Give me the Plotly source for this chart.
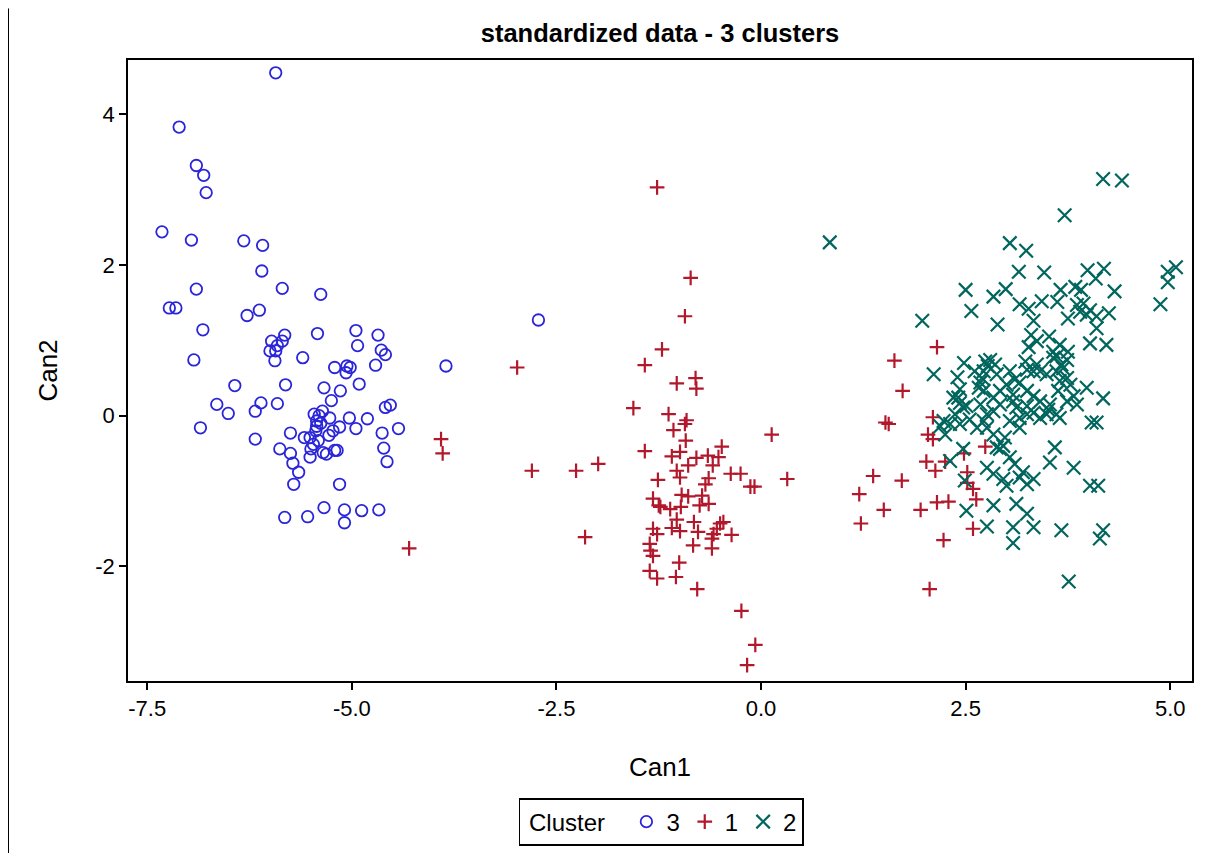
import plotly.graph_objects as go

# ---- data ----
c3_x = [-5.93, -7.11, -6.90, -6.81, -6.78, -7.32, -6.96, -6.32, -6.09, -6.10, -6.90, -5.85, -5.38,
        -7.23, -7.15, -6.28, -6.13, -6.82, -5.82, -5.98, -5.85, -5.91, -6.00, -5.93, -5.94, -6.93,
        -5.60, -5.42, -4.95, -4.68, -4.93, -4.64, -4.59, -4.71, -5.21, -5.06, -5.02, -5.07, -6.43,
        -5.81, -5.34, -5.14, -4.91, -5.25, -6.65, -6.51, -6.11, -6.18, -5.91, -6.85, -6.18, -5.46,
        -5.36, -5.43, -5.43, -5.27, -5.03, -4.81, -4.95, -5.15, -5.23, -5.28, -4.63, -4.43, -4.59,
        -4.53, -5.75, -5.58, -5.51, -5.41, -5.47, -5.50, -5.35, -5.31, -5.21, -5.18, -5.51, -5.88,
        -5.75, -5.72, -5.65, -5.71, -5.15, -4.61, -4.57, -5.82, -5.54, -5.34, -5.09, -5.09, -4.88,
        -4.67, -2.72, -3.85, -5.40, -5.38, -5.44]
c3_y = [4.55, 3.83, 3.32, 3.19, 2.96, 2.44, 2.33, 2.32, 2.26, 1.92, 1.68, 1.69, 1.61,
        1.43, 1.43, 1.33, 1.40, 1.14, 1.07, 0.99, 0.99, 0.93, 0.86, 0.86, 0.73, 0.74,
        0.77, 1.09, 1.13, 1.07, 0.93, 0.87, 0.81, 0.67, 0.64, 0.66, 0.64, 0.57, 0.40,
        0.41, 0.37, 0.33, 0.42, 0.20, 0.15, 0.03, 0.17, 0.06, 0.16, -0.16, -0.31, 0.02,
        0.06, -0.07, -0.14, -0.03, -0.03, -0.04, -0.17, -0.15, -0.20, -0.26, -0.23, -0.17, 0.11,
        0.14, -0.23, -0.29, -0.29, -0.33, -0.38, -0.44, -0.49, -0.51, -0.46, -0.46, -0.55, -0.44,
        -0.50, -0.63, -0.75, -0.91, -0.91, -0.43, -0.61, -1.35, -1.34, -1.22, -1.25, -1.42, -1.26,
        -1.25, 1.27, 0.66, 0.00, -0.10, -0.20]

c1_x = [-2.98, -3.91, -3.89, -2.80, -2.26, -4.30, -1.27, -0.86, -0.93, -1.21, -1.42, -1.03, -0.80,
        -0.79, -1.56, -1.13, -0.91, -0.93, -1.07, -0.92, -1.42, -1.09, -0.99, -0.79, -0.65, -0.52,
        -0.48, -0.59, -0.89, -1.03, -0.99, 0.13, 0.32, -1.99, -2.15, -1.26, -0.64, -0.68, -0.37,
        -0.25, -0.13, -0.08, -1.32, -1.25, -1.23, -1.11, -0.97, -0.89, -0.98, -0.72, -0.75, -0.64,
        -1.03, -1.09, -0.99, -0.82, -0.77, -1.32, -1.27, -0.50, -0.46, -0.54, -0.58, -0.60, -0.36,
        -0.83, -0.60, -1.36, -1.35, -1.32, -1.00, -1.36, -1.27, -1.04, -0.78, -0.24, -0.07, -0.17,
        1.37, 1.20, 1.22, 2.15, 1.63, 1.73, 1.52, 1.56, 2.10, 2.04, 2.10, 2.02, 2.13, 2.25, 2.48,
        2.74, 2.52, 2.52, 2.59, 2.63, 1.72, 1.50, 1.95, 2.15, 2.29, 2.59, 2.23, 2.06]
c1_y = [0.64, -0.31, -0.50, -0.73, -0.73, -1.76, 3.03, 1.83, 1.32, 0.88, 0.67, 0.43, 0.50,
        0.36, 0.10, 0.02, -0.06, -0.11, -0.19, -0.33, -0.47, -0.54, -0.48, -0.56, -0.53, -0.55,
        -0.41, -0.66, -0.66, -0.73, -0.82, -0.25, -0.84, -0.64, -1.61, -0.85, -0.83, -0.91, -0.77,
        -0.77, -0.94, -0.94, -1.10, -1.19, -1.21, -1.24, -1.05, -1.07, -1.21, -1.06, -1.19, -1.17,
        -1.38, -1.49, -1.53, -1.41, -1.54, -1.50, -1.57, -1.43, -1.41, -1.50, -1.57, -1.63, -1.58,
        -1.72, -1.76, -1.70, -1.79, -1.86, -1.95, -2.06, -2.16, -2.14, -2.30, -2.59, -3.04, -3.31,
        -0.80, -1.04, -1.43, 0.91, 0.73, 0.33, -0.09, -0.11, -0.02, -0.25, -0.31, -0.61, -0.73, -0.61, -0.50,
        -0.41, -0.75, -0.89, -0.97, -1.11, -0.86, -1.25, -1.25, -1.15, -1.14, -1.50, -1.65, -2.30]

c2_x = [4.18, 4.41, 3.71, 0.84, 3.04, 3.24, 3.15, 3.46, 3.99, 4.19, 4.09, 5.07, 4.97, 4.97, 4.88,
        4.32, 2.50, 2.57, 2.84, 2.99, 2.89, 1.97, 3.16, 3.27, 3.33, 3.43, 3.62, 3.66, 3.84, 3.91,
        3.86, 3.94, 3.90, 4.02, 3.98, 4.10, 4.25, 4.10, 3.75, 3.30, 3.37, 3.27, 3.52, 4.02, 4.22,
        3.65, 3.75, 3.57, 3.61, 3.57, 3.74, 3.67, 2.48, 2.74, 2.80, 2.86, 2.77, 3.23, 3.37, 3.41,
        3.49, 3.25, 3.61, 3.69, 3.74, 3.65, 3.78, 2.11, 2.40, 2.61, 2.72, 2.68, 2.88, 3.04, 3.10,
        3.16, 3.00, 2.92, 3.08, 3.25, 3.33, 3.98, 4.18, 3.82, 3.86, 3.74, 2.72, 2.84, 2.68, 2.41,
        2.47, 2.37, 3.41, 3.53, 3.61, 3.49, 2.92, 3.12, 3.25, 4.10, 4.04, 2.23, 2.55, 2.72, 3.04,
        2.70, 2.66, 2.43, 2.35, 2.43, 2.51, 2.31, 2.19, 2.43, 2.64, 2.76, 2.84, 3.08, 3.25, 3.16,
        2.76, 2.84, 2.96, 2.88, 2.92, 3.04, 2.76, 2.84, 2.96, 3.16, 3.25, 3.00, 2.51, 2.84, 3.12,
        3.25, 3.08, 2.76, 3.08, 3.33, 2.31, 2.25, 2.47, 2.49, 3.33, 3.33, 3.63, 3.51, 3.65, 3.41,
        3.33, 3.16, 2.98, 3.59, 3.53, 3.82, 3.10, 3.20, 4.02, 4.12, 3.67, 4.18, 4.14, 3.76]
c2_y = [3.14, 3.12, 2.66, 2.30, 2.29, 2.19, 1.91, 1.90, 1.93, 1.95, 1.82, 1.97, 1.91, 1.77, 1.48,
        1.65, 1.67, 1.39, 1.58, 1.68, 1.21, 1.26, 1.48, 1.42, 1.26, 1.52, 1.51, 1.67, 1.71, 1.67,
        1.47, 1.49, 1.38, 1.40, 1.34, 1.32, 1.36, 1.16, 1.29, 1.07, 0.99, 0.91, 1.05, 0.96, 0.94,
        0.94, 0.85, 0.85, 0.79, 0.77, 0.74, 0.68, 0.70, 0.72, 0.74, 0.68, 0.66, 0.72, 0.68, 0.59,
        0.55, 0.61, 0.59, 0.63, 0.50, 0.46, 0.41, 0.55, 0.51, 0.59, 0.59, 0.44, 0.55, 0.59, 0.48,
        0.44, 0.41, 0.33, 0.28, 0.33, 0.26, 0.37, 0.23, 0.26, 0.15, 0.19, 0.33, 0.24, 0.15, 0.24,
        0.11, 0.02, 0.19, 0.15, 0.02, 0.02, 0.15, 0.11, 0.02, -0.09, -0.09, -0.07, -0.05, -0.07, -0.07,
        0.50, 0.37, 0.35, 0.24, 0.17, 0.13, -0.11, -0.14, -0.11, -0.16, 0.02, 0.06, 0.19, 0.13, -0.03,
        -0.16, -0.25, -0.40, -0.42, -0.44, -0.55, -0.69, -0.77, -0.84, -0.82, -0.91, -0.93, -1.26, -1.19, -1.17,
        -1.30, -1.48, -1.47, -1.69, -1.48, -0.60, -0.25, -0.44, -0.86, -0.84, 0.59, 0.33, 0.08, -0.03, -0.03,
        0.04, -0.16, -0.29, -0.42, -0.62, -0.69, -0.64, -0.75, -0.93, -0.93, -1.52, -1.52, -1.63, -2.20]

x_tickvals = [-7.5, -5.0, -2.5, 0.0, 2.5, 5.0]
x_ticktext = ["-7.5", "-5.0", "-2.5", "0.0", "2.5", "5.0"]
y_tickvals = [-2, 0, 2, 4]
y_ticktext = ["-2", "0", "2", "4"]

BLUE = "#2A25D9"
RED = "#B2182B"
GREEN = "#01665E"
FONT = "Liberation Sans, Arial, sans-serif"

fig = go.Figure()
fig.add_trace(go.Scatter(x=c3_x, y=c3_y, mode="markers", name="3",
                         marker=dict(symbol="circle-open", size=11.5, color=BLUE,
                                     line=dict(width=1.8, color=BLUE))))
fig.add_trace(go.Scatter(x=c1_x, y=c1_y, mode="markers", name="1",
                         marker=dict(symbol="cross-thin-open", size=10.5, color=RED,
                                     line=dict(width=2.2, color=RED))))
fig.add_trace(go.Scatter(x=c2_x, y=c2_y, mode="markers", name="2",
                         marker=dict(symbol="x-thin-open", size=13.5, color=GREEN,
                                     line=dict(width=2.2, color=GREEN))))

axis_common = dict(showgrid=False, zeroline=False, showline=True, linecolor="black",
                   linewidth=1.8, mirror=True, ticks="outside", ticklen=7, tickwidth=1.8,
                   tickcolor="black", tickfont=dict(family=FONT, size=22, color="black"))

# page body has an 8px margin, so the figure is 8px smaller and margins shifted
fig.update_layout(
    width=1197, height=850,
    paper_bgcolor="white", plot_bgcolor="white",
    margin=dict(l=120, r=13, t=52, b=173),
    font=dict(family=FONT, color="black"),
    title=dict(text="<b>standardized data - 3 clusters</b>", x=(660 - 8) / 1197, xanchor="center",
               y=1 - 25 / 850, yanchor="middle",
               font=dict(family=FONT, size=25.5, color="black")),
    xaxis=dict(range=[-7.735, 5.266], tickvals=x_tickvals, ticktext=x_ticktext,
               title=dict(text="Can1", font=dict(family=FONT, size=26, color="black"), standoff=38),
               **axis_common),
    yaxis=dict(range=[-3.52, 4.72], tickvals=y_tickvals, ticktext=y_ticktext,
               title=dict(text="Can2", font=dict(family=FONT, size=26, color="black"), standoff=30),
               **axis_common),
    showlegend=True,
    legend=dict(orientation="h", x=0.501, xanchor="center", y=-0.188, yanchor="top",
                bordercolor="black", borderwidth=1.8, bgcolor="white",
                title=dict(text=" Cluster  ", font=dict(family=FONT, size=24, color="black")),
                font=dict(family=FONT, size=24, color="black"),
                itemwidth=30, tracegroupgap=0),
    shapes=[dict(type="line", xref="paper", yref="paper", x0=-0.1123, x1=-0.1123,
                 y0=-0.277, y1=1.083, line=dict(color="black", width=1))],
)

fig.write_html("out.html")
